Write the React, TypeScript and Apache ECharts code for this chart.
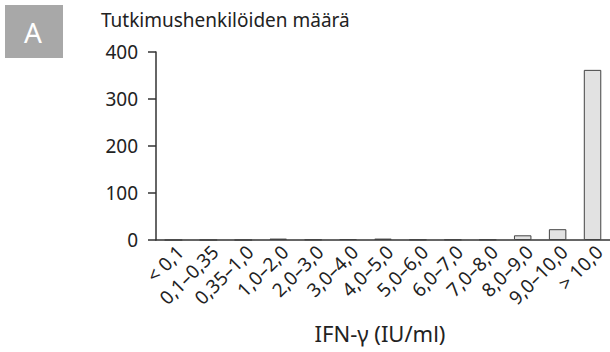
import React, { useEffect, useRef } from "react";
import * as echarts from "echarts";

const categories = [
  "< 0,1", "0,1–0,35", "0,35–1,0", "1,0–2,0", "2,0–3,0", "3,0–4,0", "4,0–5,0",
  "5,0–6,0", "6,0–7,0", "7,0–8,0", "8,0–9,0", "9,0–10,0", "> 10,0",
];
const counts = [0, 0, 0, 3, 1, 2, 3, 1, 1, 1, 10, 23, 362];
const yTicks = { min: 0, max: 400, interval: 100 };
const titleText = "Tutkimushenkilöiden määrä";
const xTitle = "IFN-γ (IU/ml)";
const panelLabel = "A";

export default function App() {
  const ref = useRef<HTMLDivElement>(null);
  useEffect(() => {
    const chart = echarts.init(ref.current!, null, { renderer: "svg" });
    const font = "'Noto Sans', sans-serif";
    chart.setOption({
      animation: false,
      backgroundColor: "#fff",
      textStyle: { fontFamily: font },
      grid: { left: 156, right: 0, top: 52, bottom: 112, containLabel: false },
      graphic: [
        { type: "rect", left: 5, top: 5, shape: { width: 58, height: 53 }, style: { fill: "#a8a8a8" } },
        { type: "text", x: 33, y: 32, style: { text: panelLabel, fill: "#fff", font: `28px ${font}`, align: "center", verticalAlign: "middle" } },
        { type: "text", x: 101, y: 20, style: { text: titleText, fill: "#222", font: `19px ${font}`, verticalAlign: "middle" } },
        { type: "text", x: 380, y: 333, style: { text: xTitle, fill: "#222", font: `22px ${font}`, align: "center", verticalAlign: "middle" } },
      ],
      xAxis: {
        type: "category",
        data: categories,
        axisLine: { lineStyle: { color: "#333", width: 1.5 } },
        axisTick: { length: 6, lineStyle: { color: "#333", width: 1.5 } },
        axisLabel: { rotate: 45, color: "#222", fontSize: 19, margin: 2, interval: 0, verticalAlign: "top", fontFamily: font },
      },
      yAxis: {
        type: "value",
        min: yTicks.min,
        max: yTicks.max,
        interval: yTicks.interval,
        splitLine: { show: false },
        axisLine: { show: true, lineStyle: { color: "#333", width: 1.5 } },
        axisTick: { show: true, length: 8, lineStyle: { color: "#333", width: 1.5 } },
        axisLabel: { color: "#222", fontSize: 19, margin: 18, fontFamily: font },
      },
      series: [
        {
          type: "bar",
          data: counts,
          barWidth: "50%",
          itemStyle: { color: "#e2e2e2", borderColor: "#444", borderWidth: 1 },
        },
      ],
    });
    return () => chart.dispose();
  }, []);
  return <div ref={ref} style={{ position: "fixed", left: 0, top: 0, width: 610, height: 352 }} />;
}
